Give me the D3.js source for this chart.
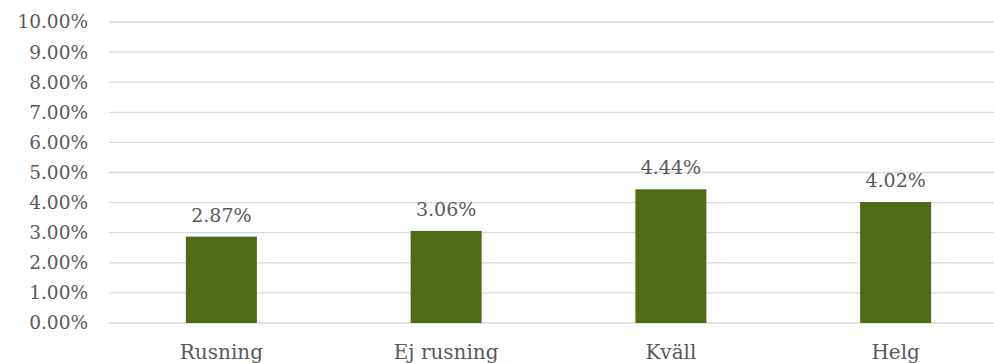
<!DOCTYPE html>
<html>
<head>
<meta charset="utf-8">
<script src="https://cdn.jsdelivr.net/npm/d3@7"></script>
<style>
  body { margin: 0; background: #fff; }
  text { font-family: Georgia, "DejaVu Serif", serif; fill: #595959; }
</style>
</head>
<body>
<div id="chart"></div>
<script>
var categories = ["Rusning", "Ej rusning", "Kväll", "Helg"];
var values = [0.0287, 0.0306, 0.0444, 0.0402];
var tickValues = [0, 0.01, 0.02, 0.03, 0.04, 0.05, 0.06, 0.07, 0.08, 0.09, 0.10];

var svgWidth = 994;
var svgHeight = 363;

var margin = { top: 22, left: 109 };
var width = 899;   // plot runs past the right edge, like the original
var height = 301;

var svg = d3.select("#chart")
  .append("svg")
  .attr("width", svgWidth)
  .attr("height", svgHeight);

var chartGroup = svg.append("g")
  .attr("transform", `translate(${margin.left}, ${margin.top})`);

var xScale = d3.scaleBand()
  .domain(categories)
  .range([0, width])
  .paddingInner(0.684)
  .paddingOuter(0.342);

var yScale = d3.scaleLinear()
  .domain([0, 0.10])
  .range([height, 0]);

// gridlines
chartGroup.append("g")
  .selectAll("line")
  .data(tickValues)
  .enter()
  .append("line")
  .attr("x1", 0)
  .attr("x2", width)
  .attr("y1", d => yScale(d))
  .attr("y2", d => yScale(d))
  .attr("stroke", "#d9d9d9")
  .attr("stroke-width", 1.3);

// y axis labels
var leftAxis = d3.axisLeft(yScale)
  .tickValues(tickValues)
  .tickFormat(d3.format(".2%"))
  .tickSize(0)
  .tickPadding(21);

var yAxis = chartGroup.append("g").call(leftAxis);
yAxis.select(".domain").remove();
yAxis.selectAll("text")
  .style("font-size", "18.5px")
  .style("font-family", "Georgia, 'DejaVu Serif', serif")
  .attr("fill", "#595959");

// bars
chartGroup.selectAll("rect.bar")
  .data(values)
  .enter()
  .append("rect")
  .attr("class", "bar")
  .attr("x", (d, i) => xScale(categories[i]))
  .attr("y", d => yScale(d))
  .attr("width", xScale.bandwidth())
  .attr("height", d => height - yScale(d))
  .attr("fill", "#4e6c18");

// value labels
chartGroup.selectAll("text.value")
  .data(values)
  .enter()
  .append("text")
  .attr("class", "value")
  .attr("x", (d, i) => xScale(categories[i]) + xScale.bandwidth() / 2)
  .attr("y", d => yScale(d) - 15)
  .attr("text-anchor", "middle")
  .style("font-size", "19px")
  .text(d => d3.format(".2%")(d));

// category labels
var bottomAxis = d3.axisBottom(xScale).tickSize(0).tickPadding(22);
var xAxis = chartGroup.append("g")
  .attr("transform", `translate(0, ${height})`)
  .call(bottomAxis);
xAxis.select(".domain").remove();
xAxis.selectAll("text")
  .style("font-size", "20px")
  .style("font-family", "Georgia, 'DejaVu Serif', serif")
  .attr("fill", "#595959");
</script>
</body>
</html>
